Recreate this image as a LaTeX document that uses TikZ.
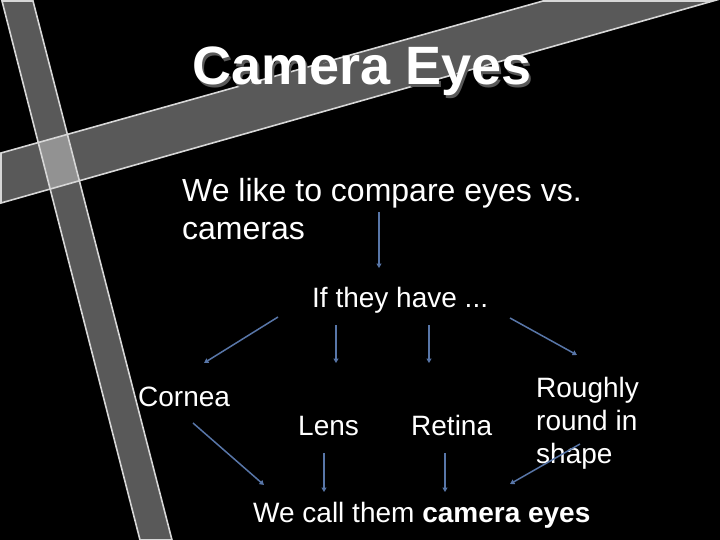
\documentclass[tikz,border=0pt]{standalone}
\usepackage{fontspec}
\setmainfont{Liberation Sans}
\usetikzlibrary{arrows.meta}
\definecolor{arrowblue}{RGB}{88,118,168}
\definecolor{bandline}{RGB}{215,215,215}
\tikzset{
  band/.style={fill=white,fill opacity=0.35},
  bandedge/.style={draw=bandline,line width=1.6pt},
  arr/.style={-{Triangle[length=4.5pt,width=5pt]},line width=1.5pt,draw=arrowblue},
  lbl/.style={text=white,inner sep=0pt,anchor=base west,font=\fontsize{28}{33.6}\selectfont},
  big/.style={lbl,font=\fontsize{32}{38.4}\selectfont},
  heading/.style={inner sep=0pt,anchor=base west,font=\fontsize{54}{64}\selectfont\bfseries}
}
\begin{document}
\begin{tikzpicture}[x=1pt,y=-1pt]
  \useasboundingbox (0,0) rectangle (720,540);
  \fill[black] (0,0) rectangle (720,540);
  % the two crossed strips
  \fill[band] (2,1) -- (33,1) -- (172,540) -- (140,540) -- cycle;
  \fill[band] (1,153) -- (543,1) -- (713,1) -- (1,203) -- cycle;
  \draw[bandedge] (2,1) -- (33,1) -- (172,540) -- (140,540) -- cycle;
  \draw[bandedge] (1,153) -- (543,1) -- (713,1) -- (1,203) -- cycle;

  % title with its shadow
  \node[heading,text=black!65] at (194.5,87.5) {Camera Eyes};
  \node[heading,text=white] (title) at (192,85) {Camera Eyes};

  \node[big] (like) at (182,202) {We like to compare eyes vs.};
  \node[big] (cams) at (182,240) {cameras};
  \node[lbl] (have) at (312,307) {If they have ...};
  \node[lbl] (cornea) at (138,406) {Cornea};
  \node[lbl] (lens) at (298,435) {Lens};
  \node[lbl] (retina) at (411,435) {Retina};
  \node[lbl] (rough) at (536,397) {Roughly};
  \node[lbl] (round) at (536,430) {round in};
  \node[lbl] (shape) at (536,463) {shape};
  \node[lbl] (call) at (253,522) {We call them {\bfseries camera eyes}};

  % arrow ends
  \coordinate (a0) at (379,212); \coordinate (b0) at (379,268);
  \coordinate (a1) at (278,317); \coordinate (b1) at (204,363);
  \coordinate (a2) at (336,325); \coordinate (b2) at (336,363);
  \coordinate (a3) at (429,325); \coordinate (b3) at (429,363);
  \coordinate (a4) at (510,318); \coordinate (b4) at (577,355);
  \coordinate (a5) at (193,423); \coordinate (b5) at (264,485);
  \coordinate (a6) at (324,453); \coordinate (b6) at (324,492);
  \coordinate (a7) at (445,453); \coordinate (b7) at (445,492);
  \coordinate (a8) at (580,444); \coordinate (b8) at (510,484);
  \foreach \i in {0,...,8}
    \draw[arr] (a\i) -- (b\i);
\end{tikzpicture}
\end{document}
